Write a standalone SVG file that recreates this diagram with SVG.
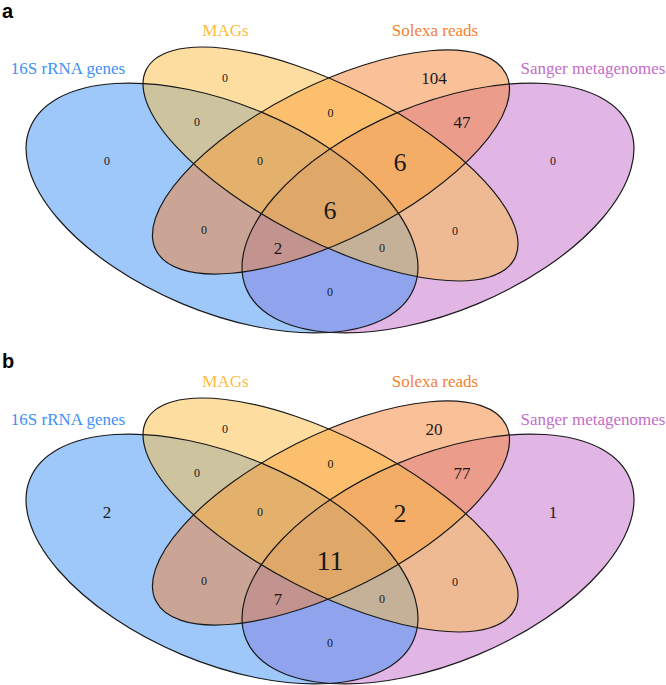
<svg xmlns="http://www.w3.org/2000/svg" xmlns:xlink="http://www.w3.org/1999/xlink" width="666" height="685" viewBox="0 0 666 685">
<style>
  .f-blue{fill:#3D91F5;fill-opacity:0.5}
  .f-yellow{fill:#FBBD41;fill-opacity:0.5}
  .f-orange{fill:#F58131;fill-opacity:0.5}
  .f-purple{fill:#C36DC9;fill-opacity:0.5}
  .outline{fill:none;stroke:#1a1a1a;stroke-width:1.2}
  .cat{font-family:'Liberation Serif','Times New Roman',serif;font-size:17px;text-anchor:middle}
  .n{font-family:'Liberation Serif','Times New Roman',serif;text-anchor:middle;fill:#1a1a1a}
  .s{font-size:12px}
  .m{font-size:17px}
  .l{font-size:26px}
  .xl{font-size:28px}
  .panel{font-family:'Liberation Sans',Arial,sans-serif;font-weight:bold;font-size:20px;fill:#000}
</style>
<defs>
  <ellipse id="e-blue" cx="222" cy="208" rx="208" ry="103.7" transform="rotate(22.75 222 208)"/>
  <ellipse id="e-purple" cx="438" cy="208" rx="208" ry="103.7" transform="rotate(-22.75 438 208)"/>
  <ellipse id="e-yellow" cx="330.5" cy="164" rx="207" ry="77.3" transform="rotate(27.2 330.5 164)"/>
  <ellipse id="e-orange" cx="331" cy="162" rx="196" ry="77.5" transform="rotate(-26.7 331 162)"/>
</defs>

<g id="panel-a">
  <text class="panel" x="2" y="18">a</text>
  <g id="a-sanger"><use xlink:href="#e-purple" class="f-purple"/><text class="cat" x="593" y="74" fill="#C36DC9">Sanger metagenomes</text></g>
  <g id="a-16s"><use xlink:href="#e-blue" class="f-blue"/><text class="cat" x="68" y="74" fill="#3D91F5">16S rRNA genes</text></g>
  <g id="a-solexa"><use xlink:href="#e-orange" class="f-orange"/><text class="cat" x="435" y="36" fill="#F58131">Solexa reads</text></g>
  <g id="a-mags"><use xlink:href="#e-yellow" class="f-yellow"/><text class="cat" x="225.5" y="36" fill="#FBBD41">MAGs</text></g>
  <g id="a-outlines">
    <use xlink:href="#e-purple" class="outline"/>
    <use xlink:href="#e-blue" class="outline"/>
    <use xlink:href="#e-orange" class="outline"/>
    <use xlink:href="#e-yellow" class="outline"/>
  </g>
  <g id="a-counts">
    <text class="n s" x="107" y="165">0</text>
    <text class="n s" x="225" y="82">0</text>
    <text class="n m" x="434" y="84">104</text>
    <text class="n s" x="553" y="165">0</text>
    <text class="n s" x="197" y="126">0</text>
    <text class="n s" x="330.5" y="117">0</text>
    <text class="n m" x="462" y="128">47</text>
    <text class="n s" x="260" y="165">0</text>
    <text class="n l" x="400" y="171">6</text>
    <text class="n l" x="330" y="219">6</text>
    <text class="n s" x="204" y="234">0</text>
    <text class="n s" x="455" y="235">0</text>
    <text class="n m" x="278" y="254">2</text>
    <text class="n s" x="382" y="252">0</text>
    <text class="n s" x="330" y="296">0</text>
  </g>
</g>

<g id="panel-b" transform="translate(0,351)">
  <text class="panel" x="2" y="17">b</text>
  <g id="b-sanger"><use xlink:href="#e-purple" class="f-purple"/><text class="cat" x="593" y="74" fill="#C36DC9">Sanger metagenomes</text></g>
  <g id="b-16s"><use xlink:href="#e-blue" class="f-blue"/><text class="cat" x="68" y="74" fill="#3D91F5">16S rRNA genes</text></g>
  <g id="b-solexa"><use xlink:href="#e-orange" class="f-orange"/><text class="cat" x="435" y="36" fill="#F58131">Solexa reads</text></g>
  <g id="b-mags"><use xlink:href="#e-yellow" class="f-yellow"/><text class="cat" x="225.5" y="36" fill="#FBBD41">MAGs</text></g>
  <g id="b-outlines">
    <use xlink:href="#e-purple" class="outline"/>
    <use xlink:href="#e-blue" class="outline"/>
    <use xlink:href="#e-orange" class="outline"/>
    <use xlink:href="#e-yellow" class="outline"/>
  </g>
  <g id="b-counts">
    <text class="n m" x="107" y="167">2</text>
    <text class="n s" x="225" y="82">0</text>
    <text class="n m" x="434" y="84">20</text>
    <text class="n m" x="553" y="167">1</text>
    <text class="n s" x="197" y="126">0</text>
    <text class="n s" x="330.5" y="117">0</text>
    <text class="n m" x="462" y="128">77</text>
    <text class="n s" x="260" y="165">0</text>
    <text class="n l" x="400" y="171">2</text>
    <text class="n xl" x="330" y="219">11</text>
    <text class="n s" x="204" y="234">0</text>
    <text class="n s" x="455" y="235">0</text>
    <text class="n m" x="278" y="254">7</text>
    <text class="n s" x="382" y="252">0</text>
    <text class="n s" x="330" y="296">0</text>
  </g>
</g>
</svg>
